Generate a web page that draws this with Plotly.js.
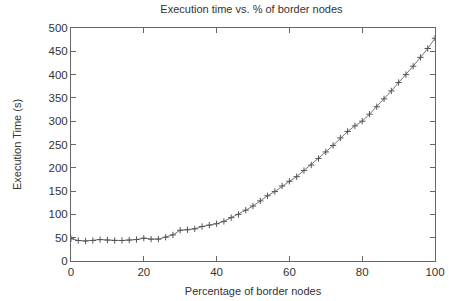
<!DOCTYPE html>
<html>
<head>
<meta charset="utf-8">
<script src="https://cdn.plot.ly/plotly-3.0.1.min.js"></script>
<style>html,body{margin:0;padding:0;background:#fff;}</style>
</head>
<body>
<div id="chart" style="width:449px;height:301px;"></div>
<script>
const percentBorder = [0,2,4,6,8,10,12,14,16,18,20,22,24,26,28,30,32,34,36,38,40,42,44,46,48,50,52,54,56,58,60,62,64,66,68,70,72,74,76,78,80,82,84,86,88,90,92,94,96,98,100];
const execTime = [48,44,43,44,46,45,44,44,45,46,49,47,47,51,56,66,67,69,74,77,80,85,93,100,109,118,129,140,149,161,171,181,194,206,220,234,248,264,278,290,300,315,331,348,365,383,400,418,437,456,478];
const xTicks = [0,20,40,60,80,100];
const yTicks = [0,50,100,150,200,250,300,350,400,450,500];

const FONT = 'Liberation Sans, Arial, sans-serif';
const trace = {
  x: percentBorder, y: execTime, type: 'scatter', mode: 'lines+markers',
  line: {color: '#777', width: 1},
  marker: {symbol: 'cross-thin', size: 4.5, color: '#555', line: {color: '#555', width: 1}},
  showlegend: false
};
const axisCommon = {
  showgrid: false, zeroline: false, showline: true, linecolor: '#666', linewidth: 1,
  mirror: 'allticks', ticks: 'inside', ticklen: 5, tickcolor: '#666', tickwidth: 1,
  tickfont: {family: FONT, size: 11.5, color: '#333'},
  tickmode: 'array'
};
const layout = {
  width: 449, height: 301,
  margin: {l: 71, r: 14, t: 28, b: 40},
  paper_bgcolor: '#fff', plot_bgcolor: '#fff',
  title: {text: 'Execution time vs. % of border nodes', x: 0.56, xanchor: 'center', y: 0.968, yanchor: 'middle',
          font: {family: FONT, size: 11, color: '#333'}},
  xaxis: Object.assign({}, axisCommon, {range: [0, 100], tickvals: xTicks,
    title: {text: 'Percentage of border nodes', standoff: 10, font: {family: FONT, size: 11, color: '#333'}}}),
  yaxis: Object.assign({}, axisCommon, {range: [0, 500], tickvals: yTicks,
    title: {text: 'Execution Time (s)', standoff: 24, font: {family: FONT, size: 11, color: '#333'}}})
};
Plotly.newPlot('chart', [trace], layout, {displayModeBar: false, staticPlot: true});
</script>
</body>
</html>
